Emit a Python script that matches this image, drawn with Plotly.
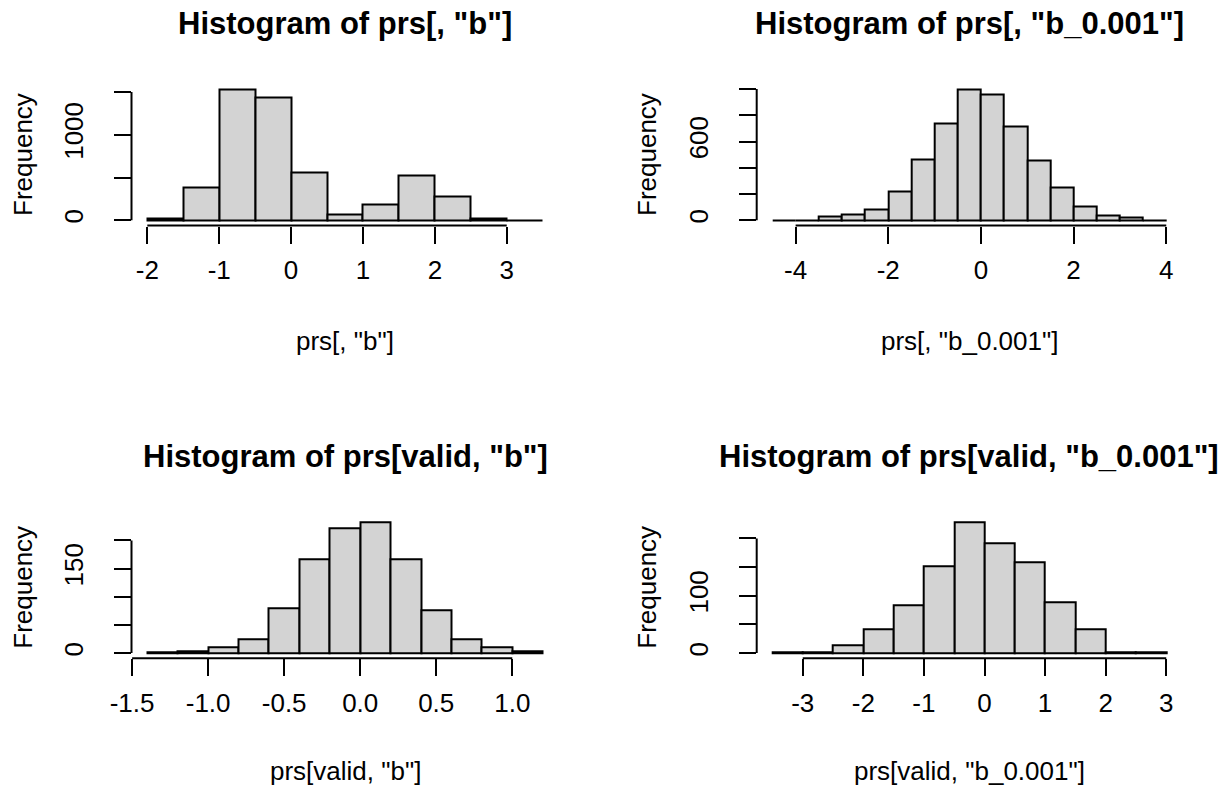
import plotly.graph_objects as go

# ---------------- data ----------------
tl_breaks = [-2.0, -1.5, -1.0, -0.5, 0.0, 0.5, 1.0, 1.5, 2.0, 2.5, 3.0, 3.5]
tl_counts = [25, 380, 1527, 1441, 560, 67, 188, 529, 282, 20, 3]
tl_xticks = [-2, -1, 0, 1, 2, 3]
tl_xtext = ["-2", "-1", "0", "1", "2", "3"]
tl_yticks = [0, 500, 1000, 1500]
tl_ytext = ["0", "", "1000", ""]

tr_breaks = [-4.5, -4.0, -3.5, -3.0, -2.5, -2.0, -1.5, -1.0, -0.5, 0.0,
             0.5, 1.0, 1.5, 2.0, 2.5, 3.0, 3.5, 4.0]
tr_counts = [1, 1, 28, 43, 80, 222, 467, 740, 995, 962, 714, 454, 247, 102, 38, 25, 2]
tr_xticks = [-4, -2, 0, 2, 4]
tr_xtext = ["-4", "-2", "0", "2", "4"]
tr_yticks = [0, 200, 400, 600, 800, 1000]
tr_ytext = ["0", "", "", "600", "", ""]

bl_breaks = [-1.4, -1.2, -1.0, -0.8, -0.6, -0.4, -0.2, 0.0, 0.2, 0.4, 0.6, 0.8, 1.0, 1.2]
bl_counts = [2, 3, 10, 24, 80, 166, 222, 232, 166, 77, 24, 10, 3]
bl_xticks = [-1.5, -1.0, -0.5, 0.0, 0.5, 1.0]
bl_xtext = ["-1.5", "-1.0", "-0.5", "0.0", "0.5", "1.0"]
bl_yticks = [0, 50, 100, 150, 200]
bl_ytext = ["0", "", "", "150", ""]

br_breaks = [-3.5, -3.0, -2.5, -2.0, -1.5, -1.0, -0.5, 0.0, 0.5, 1.0, 1.5, 2.0, 2.5, 3.0]
br_counts = [2, 2, 13, 42, 84, 152, 228, 191, 158, 89, 42, 2, 2]
br_xticks = [-3, -2, -1, 0, 1, 2, 3]
br_xtext = ["-3", "-2", "-1", "0", "1", "2", "3"]
br_yticks = [0, 50, 100, 150, 200]
br_ytext = ["0", "", "100", "", ""]

titles = ['Histogram of prs[, "b"]', 'Histogram of prs[, "b_0.001"]',
          'Histogram of prs[valid, "b"]', 'Histogram of prs[valid, "b_0.001"]']
xlabels = ['prs[, "b"]', 'prs[, "b_0.001"]', 'prs[valid, "b"]', 'prs[valid, "b_0.001"]']
ylabel = "Frequency"

# ---------------- layout (pixels) ----------------
W, H = 1229, 788
FONT = "Liberation Sans, Arial, sans-serif"
cols = [(131.5, 558.5), (756.7, 1182.0)]
rows = [(84.5, 225.5), (517.2, 658.3)]
title_y = [23.5, 456.2]
xlab_y = [341.0, 771.0]
ylab_x = [23.0, 647.0]

panels = [
    (tl_breaks, tl_counts, tl_xticks, tl_xtext, tl_yticks, tl_ytext, 0, 0),
    (tr_breaks, tr_counts, tr_xticks, tr_xtext, tr_yticks, tr_ytext, 0, 1),
    (bl_breaks, bl_counts, bl_xticks, bl_xtext, bl_yticks, bl_ytext, 1, 0),
    (br_breaks, br_counts, br_xticks, br_xtext, br_yticks, br_ytext, 1, 1),
]

fig = go.Figure()
shapes = []
annotations = []
layout = {}

for i, (brk, cnt, xt, xtt, yt, ytt, r, c) in enumerate(panels):
    sfx = "" if i == 0 else str(i + 1)
    centers = [(brk[k] + brk[k + 1]) / 2 for k in range(len(cnt))]
    widths = [brk[k + 1] - brk[k] for k in range(len(cnt))]
    fig.add_trace(go.Bar(
        x=centers, y=cnt, width=widths,
        marker=dict(color="#D3D3D3", line=dict(color="black", width=2)),
        xaxis="x" + sfx, yaxis="y" + sfx, showlegend=False,
    ))
    span = brk[-1] - brk[0]
    ymax = max(cnt)
    xd = [cols[c][0] / W, cols[c][1] / W]
    yd = [1 - rows[r][1] / H, 1 - rows[r][0] / H]
    layout["xaxis" + sfx] = dict(
        domain=xd, anchor="y" + sfx,
        range=[brk[0] - 0.04 * span, brk[-1] + 0.04 * span],
        tickmode="array", tickvals=xt, ticktext=xtt,
        ticks="outside", ticklen=17, tickwidth=2, tickcolor="black",
        showgrid=False, zeroline=False, showline=False, automargin=False,
        tickfont=dict(family=FONT, size=26, color="black"),
        ticklabelstandoff=4, fixedrange=True,
    )
    layout["yaxis" + sfx] = dict(
        domain=yd, anchor="x" + sfx,
        range=[-0.04 * ymax, 1.04 * ymax],
        tickmode="array", tickvals=yt, ticktext=ytt,
        ticks="outside", ticklen=17, tickwidth=2, tickcolor="black",
        showgrid=False, zeroline=False, showline=False, automargin=False,
        tickangle=-90,
        tickfont=dict(family=FONT, size=26, color="black"),
        ticklabelstandoff=20, fixedrange=True,
    )
    # R-style axis lines spanning first..last tick
    shapes.append(dict(type="line", xref="x" + sfx, yref="y" + sfx + " domain",
                       x0=xt[0], x1=xt[-1], y0=0, y1=0,
                       line=dict(color="black", width=2)))
    shapes.append(dict(type="line", xref="x" + sfx + " domain", yref="y" + sfx,
                       x0=0, x1=0, y0=yt[0], y1=yt[-1],
                       line=dict(color="black", width=2)))
    cx = (cols[c][0] + cols[c][1]) / 2 / W
    annotations.append(dict(text=titles[i], x=cx, y=1 - title_y[r] / H,
                            xref="paper", yref="paper", showarrow=False,
                            xanchor="center", yanchor="middle",
                            font=dict(family=FONT, size=31, color="black", weight="bold")))
    annotations.append(dict(text=xlabels[i], x=cx, y=1 - xlab_y[r] / H,
                            xref="paper", yref="paper", showarrow=False,
                            xanchor="center", yanchor="middle",
                            font=dict(family=FONT, size=26, color="black")))
    cy = 1 - (rows[r][0] + rows[r][1]) / 2 / H
    annotations.append(dict(text=ylabel, x=ylab_x[c] / W, y=cy,
                            xref="paper", yref="paper", showarrow=False,
                            textangle=-90, xanchor="center", yanchor="middle",
                            font=dict(family=FONT, size=26, color="black")))

fig.update_layout(
    width=W, height=H,
    margin=dict(l=0, r=0, t=0, b=0, pad=0, autoexpand=False),
    paper_bgcolor="white", plot_bgcolor="white",
    bargap=0, showlegend=False,
    shapes=shapes, annotations=annotations,
    **layout,
)

fig.write_html("out.html")
